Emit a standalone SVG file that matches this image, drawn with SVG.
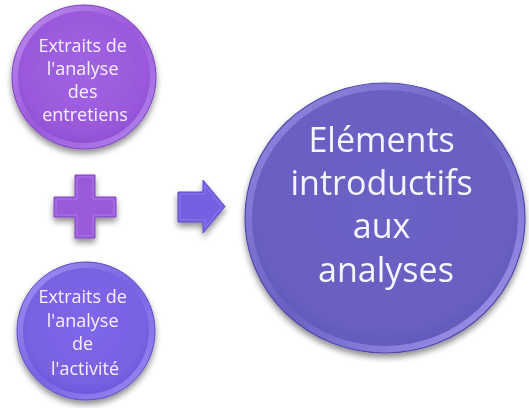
<svg xmlns="http://www.w3.org/2000/svg" width="529" height="408" viewBox="0 0 529 408">
  <defs>
    <filter id="shadow" x="-20%" y="-20%" width="140%" height="150%">
      <feGaussianBlur in="SourceAlpha" stdDeviation="3"/>
      <feOffset dx="0" dy="4" result="b"/>
      <feComponentTransfer><feFuncA type="linear" slope="0.45"/></feComponentTransfer>
      <feMerge><feMergeNode/><feMergeNode in="SourceGraphic"/></feMerge>
    </filter>
    <radialGradient id="gPurple" cx="50%" cy="45%" r="55%">
      <stop offset="0" stop-color="#A064E2"/>
      <stop offset="0.85" stop-color="#9A58DB"/>
      <stop offset="1" stop-color="#9050D4"/>
    </radialGradient>
    <linearGradient id="rimPurple" x1="0" y1="0" x2="1" y2="1">
      <stop offset="0" stop-color="#C090F0"/>
      <stop offset="0.5" stop-color="#9A59DB"/>
      <stop offset="1" stop-color="#B488EE"/>
    </linearGradient>
    <radialGradient id="gBlue" cx="50%" cy="45%" r="55%">
      <stop offset="0" stop-color="#7E67E8"/>
      <stop offset="0.85" stop-color="#7862E2"/>
      <stop offset="1" stop-color="#6E58DA"/>
    </radialGradient>
    <linearGradient id="rimBlue" x1="0" y1="0" x2="1" y2="1">
      <stop offset="0" stop-color="#A294F2"/>
      <stop offset="0.5" stop-color="#7963E3"/>
      <stop offset="1" stop-color="#9C8CF4"/>
    </linearGradient>
    <radialGradient id="gBig" cx="50%" cy="45%" r="55%">
      <stop offset="0" stop-color="#6B62C4"/>
      <stop offset="0.85" stop-color="#6960C2"/>
      <stop offset="1" stop-color="#625ABC"/>
    </radialGradient>
    <linearGradient id="rimBig" x1="0" y1="0" x2="1" y2="1">
      <stop offset="0" stop-color="#978CE4"/>
      <stop offset="0.5" stop-color="#6A61C3"/>
      <stop offset="1" stop-color="#A79CF2"/>
    </linearGradient>
  </defs>
  <style>
    .small { font-family: "Open Sans", "Liberation Sans", sans-serif; font-size: 18px; fill: #F6F0FF; text-anchor: middle; }
    .big { font-family: "Open Sans", "Liberation Sans", sans-serif; font-size: 34px; fill: #F6F4FF; text-anchor: middle; }
  </style>

  <g id="node-entretiens" filter="url(#shadow)">
    <circle cx="84" cy="77" r="72" fill="url(#rimPurple)" stroke="#7E3EC2" stroke-width="1"/>
    <circle cx="84" cy="77" r="66" fill="url(#gPurple)"/>
    <text class="small">
      <tspan x="85" y="52">Extraits de</tspan>
      <tspan x="85" y="75">l'analyse</tspan>
      <tspan x="85" y="98">des</tspan>
      <tspan x="85" y="121">entretiens</tspan>
    </text>
  </g>

  <g id="node-activite" filter="url(#shadow)">
    <circle cx="86" cy="331" r="69" fill="url(#rimBlue)" stroke="#5E48C8" stroke-width="1"/>
    <circle cx="86" cy="331" r="63" fill="url(#gBlue)"/>
    <text class="small">
      <tspan x="85" y="303">Extraits  de</tspan>
      <tspan x="85" y="327">l'analyse</tspan>
      <tspan x="85" y="350">de</tspan>
      <tspan x="85" y="375">l'activité</tspan>
    </text>
  </g>

  <g id="node-elements" filter="url(#shadow)">
    <ellipse cx="385" cy="218" rx="140" ry="135" fill="url(#rimBig)" stroke="#5049A8" stroke-width="1.2"/>
    <ellipse cx="385" cy="218" rx="133" ry="128" fill="url(#gBig)"/>
    <text class="big">
      <tspan x="386" y="152">Eléments</tspan>
      <tspan x="386" y="195">introductifs</tspan>
      <tspan x="386" y="238">aux</tspan>
      <tspan x="386" y="282">analyses</tspan>
    </text>
  </g>

  <g id="connectors">
    <g id="plus" filter="url(#shadow)">
      <path d="M75,175 H95 V197 H116 V217 H95 V238 H75 V217 H54 V197 H75 Z" fill="#9A5ADA" stroke="#8445C8" stroke-width="1"/>
      <path d="M77,177 H93 V199 H114 V215 H93 V236 H77 V215 H56 V199 H77 Z" fill="none" stroke="#AE76E6" stroke-width="1"/>
    </g>
    <g id="arrow" filter="url(#shadow)">
      <path d="M178,192 H203 V180 L225,206.5 L203,233 V222 H178 Z" fill="#7460E2" stroke="#5E4ACC" stroke-width="1"/>
      <path d="M180,194 H205 V185 L222,206.5 L205,228 V220 H180 Z" fill="none" stroke="#8C7CEC" stroke-width="1"/>
    </g>
  </g>
</svg>
